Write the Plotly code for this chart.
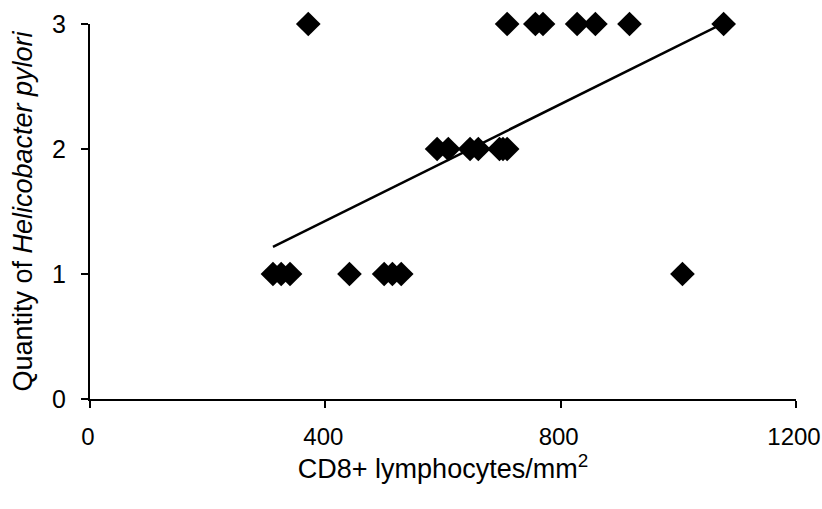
import numpy as np
import plotly.graph_objects as go

# CD8+ lymphocytes/mm2 (x) and H. pylori quantity (y)
cd8_q1 = [311, 325, 340, 441, 500, 514, 529, 1007]
cd8_q2 = [590, 609, 646, 660, 696, 702, 709]
cd8_q3 = [371, 709, 757, 770, 828, 859, 917, 1077]
x_vals = cd8_q1 + cd8_q2 + cd8_q3
y_vals = [1] * len(cd8_q1) + [2] * len(cd8_q2) + [3] * len(cd8_q3)

x_ticks = [0, 400, 800, 1200]
y_ticks = [0, 1, 2, 3]

# linear trend line fitted to the data
slope, intercept = np.polyfit(x_vals, y_vals, 1)
tx = [min(x_vals), max(x_vals)]
ty = [slope * v + intercept for v in tx]

font_family = "Liberation Sans, Arial, sans-serif"

fig = go.Figure()
fig.add_trace(go.Scatter(x=tx, y=ty, mode="lines",
                         line=dict(color="black", width=2.5),
                         hoverinfo="skip", cliponaxis=False))
fig.add_trace(go.Scatter(x=x_vals, y=y_vals, mode="markers",
                         marker=dict(symbol="diamond", size=19, color="black",
                                     line=dict(width=0)),
                         cliponaxis=False))

fig.update_layout(
    width=822, height=509,
    margin=dict(l=90, r=26, t=24, b=110, autoexpand=False),
    paper_bgcolor="white", plot_bgcolor="white",
    showlegend=False,
    font=dict(family=font_family, color="black", size=25),
    xaxis=dict(range=[0, 1200], tickvals=x_ticks, ticks="outside", ticklen=7,
               tickwidth=2, tickcolor="black", showline=True, linecolor="black",
               linewidth=2, showgrid=False, zeroline=False, automargin=False,
               tickfont=dict(size=24), ticklabelstandoff=8, ticklabelshift=-2,
               ticklabeloverflow="allow",
               title=dict(text="CD8+ lymphocytes/mm<sup>2</sup>", standoff=10,
                          font=dict(size=27))),
    yaxis=dict(range=[0, 3], tickvals=y_ticks, ticks="outside", ticklen=7,
               tickwidth=2, tickcolor="black", showline=True, linecolor="black",
               linewidth=2, showgrid=False, zeroline=False, automargin=False,
               tickfont=dict(size=25), ticklabelstandoff=10,
               ticklabeloverflow="allow",
               title=dict(text="Quantity of <i>Helicobacter pylori</i>", standoff=12,
                          font=dict(size=27))),
)

fig.write_html(
    "out.html",
    config={"displayModeBar": False},
    post_script="document.body.style.margin='0';document.body.style.overflow='hidden';",
)
